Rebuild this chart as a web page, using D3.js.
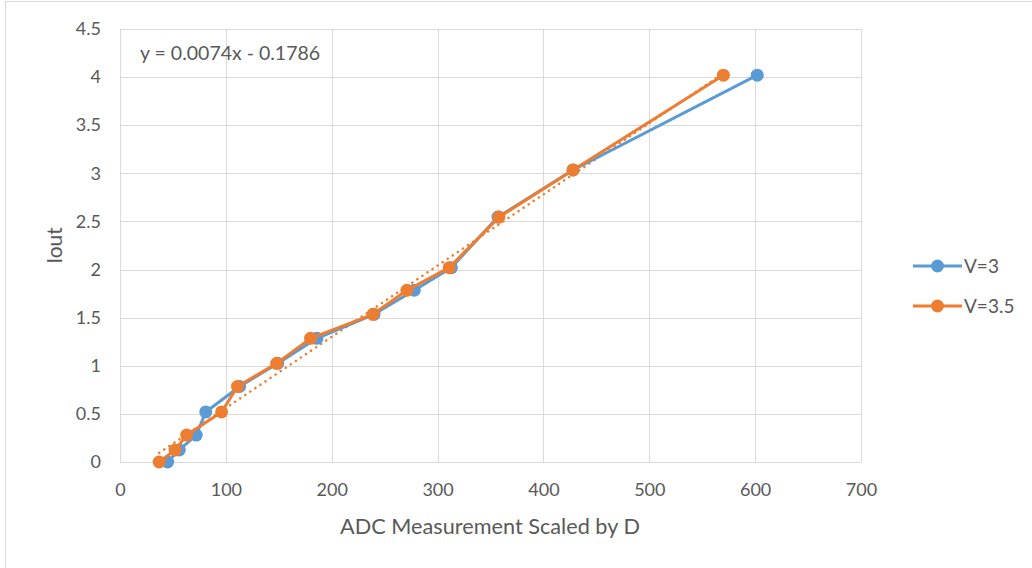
<!DOCTYPE html>
<html>
<head>
<meta charset="utf-8">
<script src="https://cdn.jsdelivr.net/npm/d3@7"></script>
<style>
  html, body { margin: 0; padding: 0; background: #fff; }
  svg { display: block; }
  text { font-family: Lato, "Open Sans", sans-serif; fill: #595959; }
</style>
</head>
<body>
<svg id="chart" width="1032" height="568"></svg>
<script>
// ADC readings (scaled by D) and the matching output current, per supply voltage
const adcV3   = [45, 56, 72, 81, 113, 149, 186, 240, 278, 313, 357, 428, 602];
const ioutV3  = [0, 0.125, 0.28, 0.52, 0.785, 1.025, 1.285, 1.535, 1.785, 2.02, 2.545, 3.035, 4.02];
const adcV35  = [37, 52, 63, 96, 111, 148, 180, 239, 271, 311, 358, 428, 570];
const ioutV35 = [0, 0.125, 0.28, 0.52, 0.785, 1.025, 1.285, 1.535, 1.785, 2.02, 2.545, 3.035, 4.02];
const seriesNames = ["V=3", "V=3.5"];
const xTicks = [0, 100, 200, 300, 400, 500, 600, 700];
const yTicks = [0, 0.5, 1, 1.5, 2, 2.5, 3, 3.5, 4, 4.5];
// linear fit on the V=3.5 series
const fitSlope = 0.0074;
const fitIntercept = -0.1786;
const fitLabel = "y = 0.0074x - 0.1786";

const colors = ["#5b9bd5", "#ed7d31"];
const svg = d3.select("#chart");

// chart border
svg.append("rect").attr("x", 5.5).attr("y", 1.5).attr("width", 1040).attr("height", 580)
  .attr("fill", "none").attr("stroke", "#d9d9d9").attr("stroke-width", 1);

const plot = { left: 120, right: 861, top: 29, bottom: 462 };
const x = d3.scaleLinear().domain([0, 700]).range([plot.left, plot.right]);
const y = d3.scaleLinear().domain([0, 4.5]).range([plot.bottom, plot.top]);

// gridlines
const grid = svg.append("g");
grid.selectAll(".gx").data(xTicks).join("line")
  .attr("x1", d => Math.round(x(d)) + 0.5).attr("x2", d => Math.round(x(d)) + 0.5)
  .attr("y1", plot.top).attr("y2", plot.bottom)
  .attr("stroke", "#d9d9d9").attr("stroke-width", 1);
grid.selectAll(".gy").data(yTicks).join("line")
  .attr("y1", d => Math.round(y(d)) + 0.5).attr("y2", d => Math.round(y(d)) + 0.5)
  .attr("x1", plot.left).attr("x2", plot.right)
  .attr("stroke", "#d9d9d9").attr("stroke-width", 1);

// axes (labels only; lines come from the grid)
const xAxis = svg.append("g").attr("transform", `translate(0,${plot.bottom})`)
  .call(d3.axisBottom(x).tickValues(xTicks).tickSize(0).tickPadding(21).tickFormat(d3.format("d")));
const yAxis = svg.append("g").attr("transform", `translate(${plot.left},0)`)
  .call(d3.axisLeft(y).tickValues(yTicks).tickSize(0).tickPadding(19).tickFormat(d => String(d)));
[xAxis, yAxis].forEach(a => {
  a.select(".domain").remove();
  a.selectAll("text").style("font-size", "18px").attr("fill", "#595959")
    .style("font-family", "Lato, sans-serif");
});

// axis titles
svg.append("text").attr("x", 490).attr("y", 534)
  .attr("text-anchor", "middle").style("font-size", "21.7px").text("ADC Measurement Scaled by D");
svg.append("text").attr("transform", `translate(62,${(plot.top + plot.bottom) / 2}) rotate(-90)`)
  .attr("text-anchor", "middle").style("font-size", "21px").text("Iout");

// trendline
const fitX = d3.extent(adcV35);
svg.append("line")
  .attr("x1", x(fitX[0])).attr("y1", y(fitSlope * fitX[0] + fitIntercept))
  .attr("x2", x(fitX[1])).attr("y2", y(fitSlope * fitX[1] + fitIntercept))
  .attr("stroke", colors[1]).attr("stroke-width", 2.5)
  .attr("stroke-dasharray", "0.1 6").attr("stroke-linecap", "round");
svg.append("text").attr("x", 140).attr("y", 60).style("font-size", "19.5px").text(fitLabel);

// series
const series = [
  { name: seriesNames[0], pts: adcV3.map((v, i) => [v, ioutV3[i]]), color: colors[0] },
  { name: seriesNames[1], pts: adcV35.map((v, i) => [v, ioutV35[i]]), color: colors[1] }
];
const line = d3.line().x(d => x(d[0])).y(d => y(d[1]));
series.forEach(s => {
  const g = svg.append("g");
  g.append("path").attr("d", line(s.pts)).attr("fill", "none")
    .attr("stroke", s.color).attr("stroke-width", 3).attr("stroke-linejoin", "round");
  g.selectAll("circle").data(s.pts).join("circle")
    .attr("cx", d => x(d[0])).attr("cy", d => y(d[1])).attr("r", 6.5)
    .attr("fill", s.color);
});

// legend
const legend = svg.append("g");
series.forEach((s, i) => {
  const ly = 266 + i * 40;
  legend.append("line").attr("x1", 913).attr("x2", 962).attr("y1", ly).attr("y2", ly)
    .attr("stroke", s.color).attr("stroke-width", 3);
  legend.append("circle").attr("cx", 937.5).attr("cy", ly).attr("r", 6.5).attr("fill", s.color);
  legend.append("text").attr("x", 964).attr("y", ly + 6.5).style("font-size", "19px").text(s.name);
});
</script>
</body>
</html>
